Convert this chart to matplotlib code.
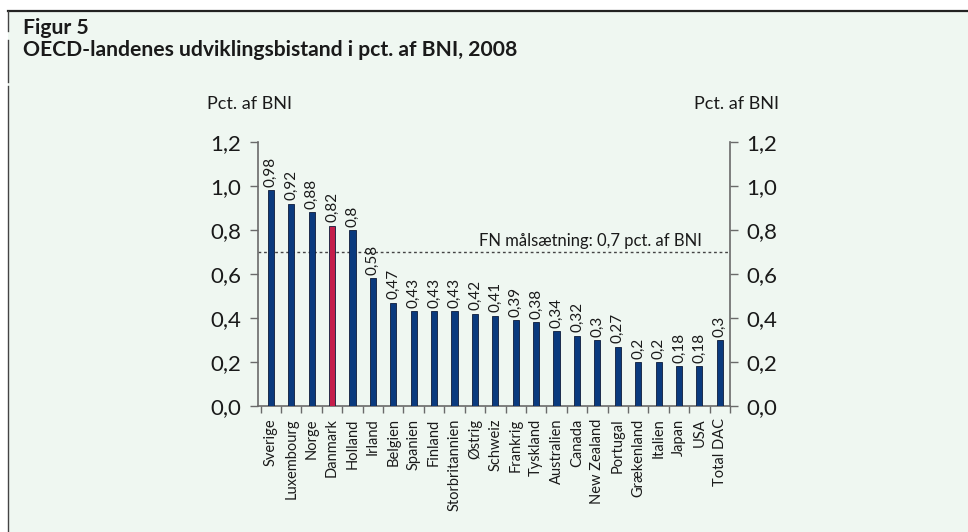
import matplotlib.pyplot as plt
from matplotlib.lines import Line2D
from matplotlib.patches import Rectangle
import numpy as np

countries = ["Sverige", "Luxembourg", "Norge", "Danmark", "Holland", "Irland",
             "Belgien", "Spanien", "Finland", "Storbritannien", "Østrig",
             "Schweiz", "Frankrig", "Tyskland", "Australien", "Canada",
             "New Zealand", "Portugal", "Grækenland", "Italien", "Japan",
             "USA", "Total DAC"]
values = [0.98, 0.92, 0.88, 0.82, 0.8, 0.58, 0.47, 0.43, 0.43, 0.43, 0.42,
          0.41, 0.39, 0.38, 0.34, 0.32, 0.3, 0.27, 0.2, 0.2, 0.18, 0.18, 0.3]
value_labels = ["0,98", "0,92", "0,88", "0,82", "0,8", "0,58", "0,47", "0,43",
                "0,43", "0,43", "0,42", "0,41", "0,39", "0,38", "0,34", "0,32",
                "0,3", "0,27", "0,2", "0,2", "0,18", "0,18", "0,3"]
highlight = "Danmark"
fn_target = 0.7
yticks = [0.0, 0.2, 0.4, 0.6, 0.8, 1.0, 1.2]
ytick_labels = ["0,0", "0,2", "0,4", "0,6", "0,8", "1,0", "1,2"]

plt.rcParams['font.family'] = ['Lato', 'DejaVu Sans']

bg = "#eff7f1"
navy = "#0a3a7e"
red = "#c41e4a"
spine = "#6a6a6a"
txt = "#1a1a1a"

fig = plt.figure(figsize=(9.68, 5.32), dpi=100)
fig.patch.set_facecolor("white")

# panel background + frame lines
fig.patches.append(Rectangle((8 / 968, 0), 1, 1 - 11 / 532, transform=fig.transFigure,
                             facecolor=bg, edgecolor="none", zorder=-10))
fig.lines.append(Line2D([8 / 968, 1], [1 - 11 / 532, 1 - 11 / 532], transform=fig.transFigure,
                        color="#222222", lw=1.6))
for y0, y1 in [(11, 31), (40, 82), (86, 532)]:
    fig.lines.append(Line2D([8 / 968, 8 / 968], [1 - y0 / 532, 1 - y1 / 532],
                            transform=fig.transFigure, color="#444444", lw=1.0))

fig.text(23 / 968, 1 - 28 / 532, "Figur 5", fontsize=15.2, fontweight="bold",
         color=txt, va="center", ha="left")
fig.text(23 / 968, 1 - 50 / 532, "OECD-landenes udviklingsbistand i pct. af BNI, 2008",
         fontsize=15.2, fontweight="bold", color=txt, va="center", ha="left")

ax = fig.add_axes([258 / 968, 1 - 406 / 532, 472 / 968, 264 / 532])
ax.set_facecolor("none")
x = np.arange(len(countries))
colors = [red if c == highlight else navy for c in countries]
ax.bar(x, values, width=0.3, color=colors, edgecolor="#0d1b3a", linewidth=0.6, zorder=3)

for xi, v, lab in zip(x, values, value_labels):
    ax.text(xi, v + 0.015, lab, rotation=90, ha="center", va="bottom",
            fontsize=11, color=txt)

ax.axhline(fn_target, color="#444444", lw=1.0, ls=(0, (2, 2)), zorder=2)
ax.text(21.1, fn_target + 0.012, "FN målsætning: 0,7 pct. af BNI", ha="right",
        va="bottom", fontsize=12, color=txt)

ax.set_xlim(-0.63, 22.39)
ax.set_ylim(0, 1.2)
ax.set_yticks(yticks)
ax.set_yticklabels(ytick_labels)
ax.tick_params(axis="y", which="both", direction="out", length=6, width=1,
               color=spine, labelsize=16, labelcolor=txt, left=True, right=True,
               labelleft=True, labelright=True, pad=6)
ax.set_xticks(x)
ax.set_xticklabels(countries, rotation=90, fontsize=10.5, color=txt)
ax.tick_params(axis="x", which="major", length=0, pad=9)
ax.set_xticks(np.arange(-0.5, len(countries), 1.0), minor=True)
ax.tick_params(axis="x", which="minor", direction="out", length=5, width=1, color=spine)

ax.spines["top"].set_visible(False)
for s in ["left", "right", "bottom"]:
    ax.spines[s].set_color(spine)
    ax.spines[s].set_linewidth(1.2)

fig.text(250 / 968, 1 - 104 / 532, "Pct. af BNI", fontsize=13, color=txt,
         ha="center", va="center")
fig.text(736 / 968, 1 - 104 / 532, "Pct. af BNI", fontsize=13, color=txt,
         ha="center", va="center")

fig.savefig("out.png", dpi=100, facecolor=fig.get_facecolor())
